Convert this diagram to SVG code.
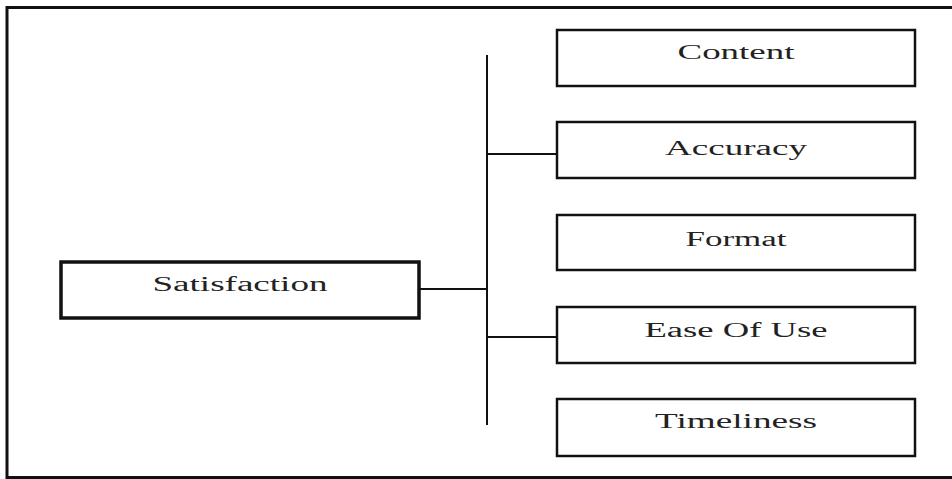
<svg xmlns="http://www.w3.org/2000/svg" width="952" height="479" viewBox="0 0 952 479">
<style>
.box{fill:#fff;stroke:#111;stroke-width:2.5}
.sbox{fill:#fff;stroke:#111;stroke-width:3.5}
.lbl{font-family:"Liberation Serif","Times New Roman",serif;font-size:20px;fill:#222;text-anchor:middle}
.conn{stroke:#111;stroke-width:2;fill:none}
</style>
<rect x="0" y="0" width="952" height="479" fill="#fff"/>
<rect id="frame" x="7" y="7.5" width="960" height="470" fill="none" stroke="#111" stroke-width="3"/>
<g id="connectors">
<line class="conn" x1="487" y1="55" x2="487" y2="425"/>
<line class="conn" x1="419" y1="289" x2="487" y2="289"/>
<line class="conn" x1="487" y1="154" x2="557" y2="154"/>
<line class="conn" x1="487" y1="337" x2="557" y2="337"/>
</g>
<g id="satisfaction">
<rect class="sbox" x="61" y="262" width="358" height="56"/>
<text class="lbl" x="240" y="291" textLength="175" lengthAdjust="spacingAndGlyphs">Satisfaction</text>
</g>
<g id="content">
<rect class="box" x="557" y="30" width="358" height="56"/>
<text class="lbl" x="736" y="59" textLength="117" lengthAdjust="spacingAndGlyphs">Content</text>
</g>
<g id="accuracy">
<rect class="box" x="557" y="122" width="358" height="56"/>
<text class="lbl" x="736" y="155" textLength="142" lengthAdjust="spacingAndGlyphs">Accuracy</text>
</g>
<g id="format">
<rect class="box" x="557" y="215" width="358" height="55"/>
<text class="lbl" x="736" y="246" textLength="101" lengthAdjust="spacingAndGlyphs">Format</text>
</g>
<g id="ease-of-use">
<rect class="box" x="557" y="307" width="358" height="56"/>
<text class="lbl" x="736" y="337" textLength="183" lengthAdjust="spacingAndGlyphs">Ease Of Use</text>
</g>
<g id="timeliness">
<rect class="box" x="557" y="399" width="358" height="57"/>
<text class="lbl" x="736" y="428" textLength="162" lengthAdjust="spacingAndGlyphs">Timeliness</text>
</g>
</svg>
